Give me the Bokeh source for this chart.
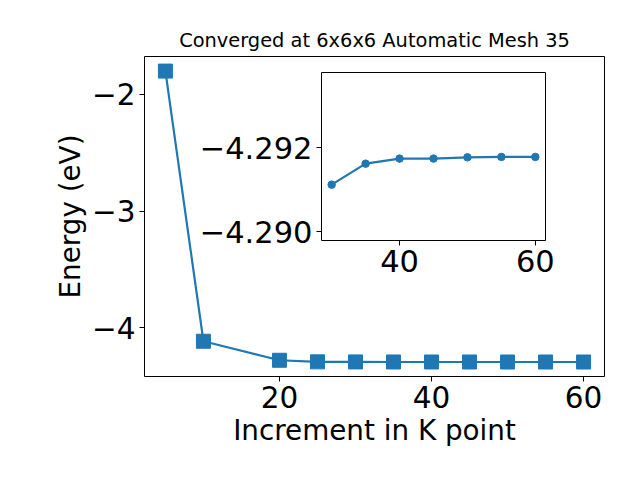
from bokeh.plotting import figure
from bokeh.models import Range1d, FixedTicker, CustomJSTickFormatter, GridBox, Column
from bokeh.embed import file_html
from bokeh.resources import INLINE

# ---- data ----
kpoints = [5, 10, 20, 25, 30, 35, 40, 45, 50, 55, 60]
energy = [-1.80, -4.114, -4.277, -4.2905, -4.2911, -4.2916, -4.2917, -4.2917, -4.2918, -4.2918, -4.2918]

inset_kpoints = [30, 35, 40, 45, 50, 55, 60]
inset_energy = [-4.29112, -4.29162, -4.29174, -4.29174, -4.29177, -4.29178, -4.29178]

main_xticks = [20, 40, 60]
main_yticks = [-4, -3, -2]
inset_xticks = [40, 60]
inset_yticks = [-4.292, -4.290]

title_text = "Converged at 6x6x6 Automatic Mesh 35"
xlabel = "Increment in K point"
ylabel = "Energy (eV)"

BLUE = "#1f77b4"
FONT = "DejaVu Sans"
TICK_SIZE = "29.5px"

minus_fmt = lambda digits: CustomJSTickFormatter(code=(
    "const s = Math.abs(tick).toFixed(%d); return tick < 0 ? '\\u2212' + s : s;" % digits))


def style_axes(fig, size):
    for ax in (fig.xaxis[0], fig.yaxis[0]):
        ax.axis_line_color = None
        ax.major_tick_in = 0
        ax.major_tick_out = 5
        ax.major_tick_line_color = "black"
        ax.major_tick_line_width = 1
        ax.minor_tick_line_color = None
        ax.major_label_text_font = FONT
        ax.major_label_text_font_size = size
        ax.major_label_text_color = "black"
        ax.major_label_standoff = 4
        ax.axis_label_text_font = FONT
        ax.axis_label_text_font_style = "normal"
        ax.axis_label_text_color = "black"
    fig.xgrid.visible = False
    fig.ygrid.visible = False
    fig.outline_line_color = "black"
    fig.outline_line_width = 1
    fig.outline_line_alpha = 1


# ---- main figure ----
p = figure(width=624, height=464, output_backend="svg", toolbar_location=None,
           x_range=Range1d(2.25, 62.75), y_range=Range1d(-4.416, -1.675),
           min_border_left=144, min_border_right=20, min_border_top=56, min_border_bottom=88,
           title=title_text)
p.title.text_font = FONT
p.title.text_font_size = "19.4px"
p.title.text_font_style = "normal"
p.title.align = "center"
p.title.text_color = "black"
style_axes(p, TICK_SIZE)
p.xaxis[0].ticker = FixedTicker(ticks=main_xticks)
p.yaxis[0].ticker = FixedTicker(ticks=main_yticks)
p.yaxis[0].formatter = minus_fmt(0)
p.xaxis[0].axis_label = xlabel
p.yaxis[0].axis_label = ylabel
p.xaxis[0].axis_label_text_font_size = "27.8px"
p.yaxis[0].axis_label_text_font_size = "27.8px"
p.xaxis[0].axis_label_standoff = 3
p.yaxis[0].axis_label_standoff = 2

p.line(kpoints, energy, line_color=BLUE, line_width=2.2)
p.scatter(kpoints, energy, marker="square", size=14, fill_color=BLUE, line_color=BLUE)

# ---- inset figure ----
inset = figure(width=362, height=218, output_backend="svg", toolbar_location=None,
               x_range=Range1d(28.5, 61.5), y_range=Range1d(-4.28979, -4.29379),
               min_border_left=126, min_border_right=12, min_border_top=0, min_border_bottom=50)
inset.border_fill_alpha = 0
inset.background_fill_color = "white"
style_axes(inset, "30.5px")
inset.xaxis[0].ticker = FixedTicker(ticks=inset_xticks)
inset.yaxis[0].ticker = FixedTicker(ticks=inset_yticks)
inset.yaxis[0].formatter = minus_fmt(3)

inset.line(inset_kpoints, inset_energy, line_color=BLUE, line_width=2.2)
inset.scatter(inset_kpoints, inset_energy, marker="circle", size=7.5, fill_color=BLUE, line_color=BLUE)

inset_box = Column(children=[inset], margin=(72, 0, 0, 195))

layout = GridBox(children=[(p, 0, 0), (inset_box, 0, 0)])

open("out.html", "w").write(file_html(layout, INLINE))
